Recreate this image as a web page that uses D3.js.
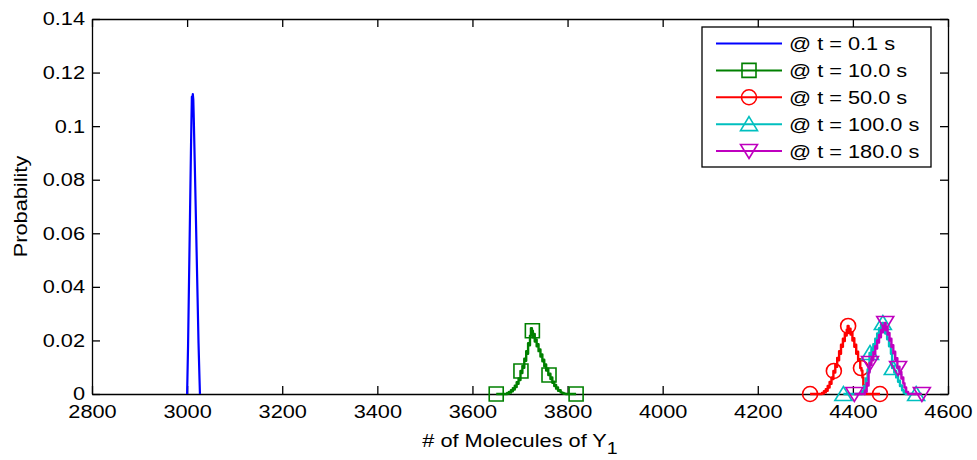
<!DOCTYPE html>
<html>
<head>
<meta charset="utf-8">
<script src="https://cdn.jsdelivr.net/npm/d3@7"></script>
<style>
  html, body { margin: 0; padding: 0; background: #fff; }
  svg { display: block; }
  text { font-family: "Liberation Sans", Arial, Helvetica, sans-serif; fill: #000; }
</style>
</head>
<body>
<svg id="chart" width="977" height="460"></svg>
<script>
// ---- data ----
const xTicks = [2800, 3000, 3200, 3400, 3600, 3800, 4000, 4200, 4400, 4600];
const xTickLabels = ["2800", "3000", "3200", "3400", "3600", "3800", "4000", "4200", "4400", "4600"];
const yTicks = [0, 0.02, 0.04, 0.06, 0.08, 0.1, 0.12, 0.14];
const yTickLabels = ["0", "0.02", "0.04", "0.06", "0.08", "0.1", "0.12", "0.14"];
const seriesNames = ["@ t = 0.1 s", "@ t = 10.0 s", "@ t = 50.0 s", "@ t = 100.0 s", "@ t = 180.0 s"];

const blueX = [3000, 3002, 3004, 3006, 3008, 3009, 3010, 3011, 3012, 3013, 3014, 3016, 3018, 3020, 3022, 3024, 3026, 3027];
const blueY = [0, 0.018, 0.042, 0.066, 0.090, 0.101, 0.111, 0.108, 0.112, 0.110, 0.103, 0.087, 0.070, 0.053, 0.036, 0.019, 0.006, 0];

const greenX = [3650, 3672, 3674, 3676, 3678, 3680, 3682, 3684, 3686, 3688, 3690, 3692, 3694, 3696, 3698, 3700, 3702, 3704, 3706, 3708, 3710, 3712, 3714, 3716, 3718, 3720, 3722, 3724, 3726, 3728, 3730, 3732, 3734, 3736, 3738, 3740, 3742, 3744, 3746, 3748, 3750, 3752, 3754, 3756, 3758, 3761, 3763, 3765, 3767, 3769, 3771, 3773, 3775, 3777, 3779, 3781, 3784, 3787, 3790, 3794, 3799, 3818];
const greenY = [0, 0, 0.0004, 0.0002, 0.0008, 0.0005, 0.0014, 0.0010, 0.0022, 0.0017, 0.0031, 0.0026, 0.0044, 0.0038, 0.0058, 0.0052, 0.0086, 0.0078, 0.0105, 0.0098, 0.0132, 0.0124, 0.0160, 0.0150, 0.0190, 0.0182, 0.0218, 0.0246, 0.0236, 0.0212, 0.0224, 0.0196, 0.0204, 0.0178, 0.0186, 0.0160, 0.0166, 0.0140, 0.0148, 0.0122, 0.0128, 0.0104, 0.0110, 0.0088, 0.0094, 0.0071, 0.0076, 0.0056, 0.0062, 0.0042, 0.0046, 0.0030, 0.0034, 0.0020, 0.0024, 0.0012, 0.0014, 0.0006, 0.0004, 0.0001, 0, 0];
const greenMarkX = [3650, 3702, 3726, 3761, 3818];
const greenMarkY = [0, 0.0086, 0.0236, 0.0071, 0];

const redX = [4310, 4334, 4336, 4338, 4340, 4342, 4344, 4346, 4348, 4350, 4352, 4354, 4356, 4358, 4360, 4362, 4364, 4366, 4368, 4370, 4372, 4374, 4376, 4378, 4380, 4382, 4384, 4386, 4388, 4390, 4392, 4394, 4396, 4398, 4400, 4402, 4404, 4406, 4408, 4410, 4412, 4414, 4417, 4419, 4421, 4423, 4426, 4457];
const redY = [0, 0, 0.0004, 0.0002, 0.0010, 0.0006, 0.0018, 0.0012, 0.0030, 0.0024, 0.0045, 0.0038, 0.0062, 0.0056, 0.0086, 0.0080, 0.0110, 0.0102, 0.0135, 0.0126, 0.0160, 0.0150, 0.0184, 0.0176, 0.0206, 0.0198, 0.0226, 0.0218, 0.0240, 0.0254, 0.0232, 0.0244, 0.0222, 0.0230, 0.0200, 0.0208, 0.0176, 0.0184, 0.0150, 0.0158, 0.0124, 0.0130, 0.0097, 0.0088, 0.0062, 0.0034, 0, 0];
const redMarkX = [4310, 4360, 4390, 4417, 4457];
const redMarkY = [0, 0.0086, 0.0254, 0.0097, 0];

const cyanX = [4380, 4418, 4420, 4422, 4424, 4426, 4428, 4430, 4432, 4434, 4436, 4438, 4440, 4442, 4444, 4446, 4448, 4450, 4452, 4454, 4456, 4458, 4460, 4463, 4465, 4467, 4469, 4471, 4473, 4475, 4477, 4479, 4481, 4484, 4486, 4488, 4490, 4492, 4494, 4496, 4498, 4500, 4502, 4505, 4509, 4513, 4533];
const cyanY = [0, 0, 0.0010, 0.0006, 0.0030, 0.0024, 0.0058, 0.0050, 0.0092, 0.0084, 0.0153, 0.0144, 0.0168, 0.0160, 0.0186, 0.0178, 0.0206, 0.0198, 0.0226, 0.0218, 0.0246, 0.0238, 0.0258, 0.0265, 0.0244, 0.0250, 0.0226, 0.0232, 0.0204, 0.0210, 0.0178, 0.0184, 0.0150, 0.0097, 0.0104, 0.0080, 0.0086, 0.0062, 0.0066, 0.0046, 0.0050, 0.0030, 0.0032, 0.0014, 0.0004, 0, 0];
const cyanMarkX = [4380, 4436, 4463, 4484, 4533];
const cyanMarkY = [0, 0.0153, 0.0265, 0.0097, 0];

const magX = [4403, 4424, 4426, 4428, 4430, 4432, 4434, 4436, 4438, 4440, 4442, 4444, 4446, 4448, 4450, 4452, 4454, 4456, 4458, 4460, 4462, 4464, 4466, 4468, 4470, 4472, 4474, 4476, 4478, 4480, 4482, 4484, 4486, 4488, 4490, 4492, 4495, 4497, 4499, 4501, 4503, 4505, 4507, 4510, 4514, 4518, 4545];
const magY = [0, 0, 0.0012, 0.0008, 0.0040, 0.0032, 0.0080, 0.0116, 0.0108, 0.0134, 0.0126, 0.0156, 0.0148, 0.0178, 0.0170, 0.0200, 0.0192, 0.0220, 0.0212, 0.0238, 0.0230, 0.0254, 0.0246, 0.0265, 0.0240, 0.0248, 0.0222, 0.0228, 0.0200, 0.0206, 0.0176, 0.0182, 0.0152, 0.0158, 0.0128, 0.0134, 0.0097, 0.0102, 0.0078, 0.0082, 0.0058, 0.0062, 0.0040, 0.0024, 0.0008, 0, 0];
const magMarkX = [4403, 4436, 4468, 4495, 4545];
const magMarkY = [0, 0.0116, 0.0265, 0.0097, 0];

// ---- layout ----
const L = 92, R = 948, T = 19, B = 394;
const FS = 18.6, SX = 1.17, TICK = 8;

const svg = d3.select("#chart");
svg.append("rect").attr("width", 977).attr("height", 460).attr("fill", "#fff");

const x = d3.scaleLinear().domain([2800, 4600]).range([L, R]);
const y = d3.scaleLinear().domain([0, 0.14]).range([B, T]);

const series = [
  { name: seriesNames[0], color: "#0000ff", xs: blueX, ys: blueY, mx: [], my: [], marker: "none", step: false },
  { name: seriesNames[1], color: "#008000", xs: greenX, ys: greenY, mx: greenMarkX, my: greenMarkY, marker: "square", step: true },
  { name: seriesNames[2], color: "#ff0000", xs: redX, ys: redY, mx: redMarkX, my: redMarkY, marker: "circle", step: true },
  { name: seriesNames[3], color: "#00bfbf", xs: cyanX, ys: cyanY, mx: cyanMarkX, my: cyanMarkY, marker: "up", step: true },
  { name: seriesNames[4], color: "#bf00bf", xs: magX, ys: magY, mx: magMarkX, my: magMarkY, marker: "down", step: true }
];

function markerPath(type) {
  switch (type) {
    case "square": return "M-7,-7H7V7H-7Z";
    case "circle": return "M-7.5,0A7.5,7.5 0 1,0 7.5,0A7.5,7.5 0 1,0 -7.5,0Z";
    case "up": return "M0,-7.5L8.5,6.5L-8.5,6.5Z";
    case "down": return "M0,7.5L8.5,-6.5L-8.5,-6.5Z";
    default: return "";
  }
}

// ---- axes ----
const axB = d3.axisBottom(x).tickValues(xTicks).tickFormat((d, i) => xTickLabels[i]).tickSizeInner(-TICK).tickSizeOuter(0).tickPadding(11);
const axT = d3.axisTop(x).tickValues(xTicks).tickFormat("").tickSizeInner(-TICK).tickSizeOuter(0);
const axLf = d3.axisLeft(y).tickValues(yTicks).tickFormat((d, i) => yTickLabels[i]).tickSizeInner(-TICK).tickSizeOuter(0).tickPadding(6);
const axRt = d3.axisRight(y).tickValues(yTicks).tickFormat("").tickSizeInner(-TICK).tickSizeOuter(0);

function styleAxis(g) {
  g.selectAll(".domain").attr("stroke", "#000").attr("stroke-width", 1.3);
  g.selectAll(".tick line").attr("stroke", "#000").attr("stroke-width", 1.3);
  g.selectAll(".tick text").attr("font-size", FS).attr("fill", "#000")
    .attr("font-family", "Liberation Sans, Arial, sans-serif");
}

const gB = svg.append("g").attr("transform", `translate(0,${B})`).call(axB).call(styleAxis);
gB.selectAll(".tick text").attr("transform", `scale(${SX},1)`);
const gT = svg.append("g").attr("transform", `translate(0,${T})`).call(axT).call(styleAxis);
const gL = svg.append("g").attr("transform", `translate(${L},0)`).call(axLf).call(styleAxis);
gL.selectAll(".tick text").attr("transform", `scale(${SX},1)`);
const gR = svg.append("g").attr("transform", `translate(${R},0)`).call(axRt).call(styleAxis);

// axis labels
const xl = svg.append("text")
  .attr("transform", `translate(${(L + R) / 2},447) scale(${SX},1)`)
  .attr("text-anchor", "middle").attr("font-size", FS);
xl.append("tspan").text("# of Molecules of Y");
xl.append("tspan").attr("dy", 7).attr("font-size", FS * 0.9).text("1");

svg.append("text")
  .attr("transform", `translate(27,${(T + B) / 2}) rotate(-90) scale(${SX},1)`)
  .attr("text-anchor", "middle").attr("font-size", FS)
  .text("Probability");

// ---- data lines ----
series.forEach(s => {
  const pts = s.xs.map((v, i) => [v, s.ys[i]]);
  const line = d3.line().x(d => x(d[0])).y(d => y(d[1]))
    .curve(s.step ? d3.curveStep : d3.curveLinear);
  svg.append("path").attr("d", line(pts))
    .attr("fill", "none").attr("stroke", s.color).attr("stroke-width", s.step ? 2.4 : 2.2)
    .attr("stroke-linejoin", "round");
  if (s.marker !== "none") {
    svg.append("g").selectAll("path").data(s.mx.map((v, i) => [v, s.my[i]])).join("path")
      .attr("transform", d => `translate(${x(d[0])},${y(d[1])})`)
      .attr("d", markerPath(s.marker))
      .attr("fill", "none").attr("stroke", s.color).attr("stroke-width", 1.6);
  }
});

// ---- legend ----
const lg = svg.append("g");
lg.append("rect").attr("x", 702).attr("y", 27).attr("width", 229).attr("height", 140)
  .attr("fill", "#fff").attr("stroke", "#000").attr("stroke-width", 1.3);
const legY = d3.scaleLinear().domain([0, 4]).range([43.5, 151]);
series.forEach((s, i) => {
  const yy = legY(i);
  lg.append("line").attr("x1", 716).attr("x2", 782).attr("y1", yy).attr("y2", yy)
    .attr("stroke", s.color).attr("stroke-width", 2);
  if (s.marker !== "none") {
    lg.append("path").attr("transform", `translate(749,${yy})`).attr("d", markerPath(s.marker))
      .attr("fill", "none").attr("stroke", s.color).attr("stroke-width", 1.6);
  }
  lg.append("text").attr("transform", `translate(789,${yy + 6.5}) scale(${SX},1)`)
    .attr("font-size", FS).text(s.name);
});
</script>
</body>
</html>
